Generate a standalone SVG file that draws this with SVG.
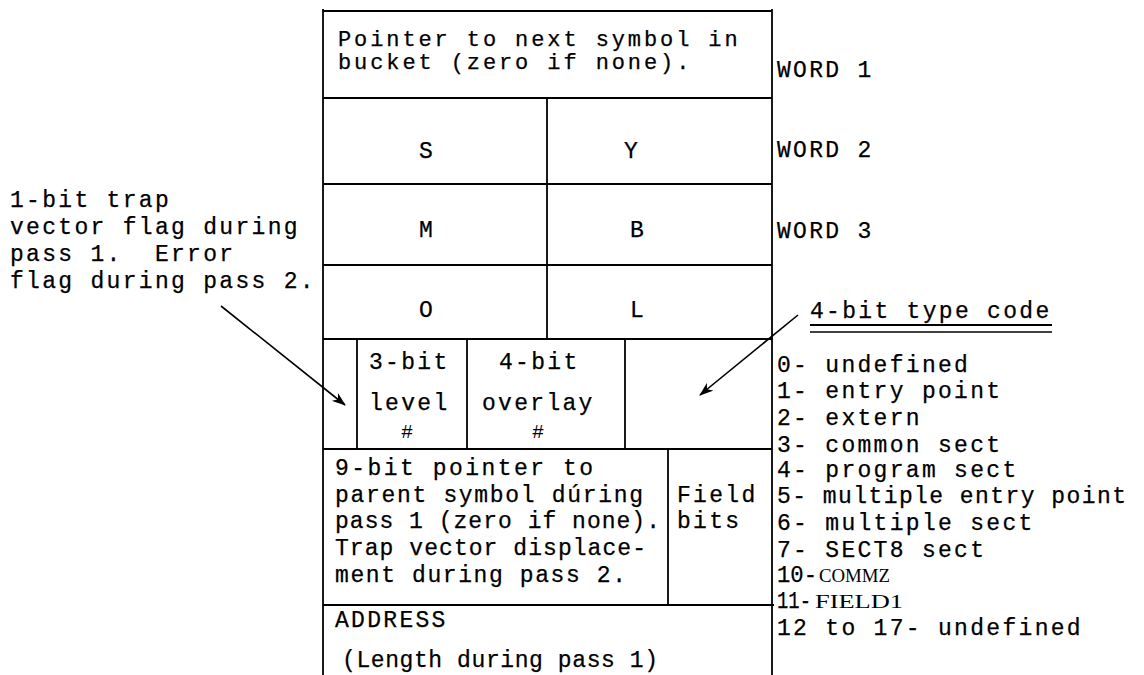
<svg xmlns="http://www.w3.org/2000/svg" width="1144" height="675" viewBox="0 0 1144 675">
<style>
.t{font-family:"Liberation Mono","Courier New",monospace;font-size:23px;letter-spacing:2.3px;fill:#000;stroke:#000;stroke-width:0.25;white-space:pre}
.tp{font-size:22px;letter-spacing:2.9px}
.n{font-family:"Liberation Mono","Courier New",monospace;font-size:23px;fill:#000;stroke:#000;stroke-width:0.25}
.h{font-family:"Liberation Mono","Courier New",monospace;font-size:20px;fill:#000;text-anchor:middle}
.r{font-family:"Liberation Serif","Times New Roman",serif;font-size:18px;fill:#000;stroke:none}
.ln{stroke:#000;stroke-width:1.8;fill:none}
.ar{stroke:#000;stroke-width:1.6;fill:none}
</style>
<defs>
<marker id="ah" viewBox="0 0 14 10" refX="13" refY="5" markerWidth="14" markerHeight="10" markerUnits="userSpaceOnUse" orient="auto">
<path d="M0,0 L14,5 L0,10 L4,5 Z" fill="#000"/>
</marker>
</defs>
<rect width="1144" height="675" fill="#fff"/>
<g id="grid" class="ln">
<path d="M323 11 H772"/>
<path d="M323 9 V675"/>
<path d="M772 9 V675"/>
<path d="M323 98 H772"/>
<path d="M323 184 H772"/>
<path d="M323 265 H772"/>
<path d="M323 339 H772"/>
<path d="M323 449 H772"/>
<path d="M323 605 H774"/>
<path d="M547 98 V339"/>
<path d="M357 339 V449"/>
<path d="M467 339 V449"/>
<path d="M625 339 V449"/>
<path d="M668 449 V605"/>
</g>
<g id="word1">
<text class="t tp" x="338" y="46">Pointer to next symbol in</text>
<text class="t tp" x="338" y="69">bucket (zero if none).</text>
</g>
<g id="cell-s"><text class="t" x="419" y="158">S</text></g>
<g id="cell-y"><text class="t" x="624" y="158">Y</text></g>
<g id="cell-m"><text class="t" x="419" y="237">M</text></g>
<g id="cell-b"><text class="t" x="630" y="237">B</text></g>
<g id="cell-o"><text class="t" x="419" y="317">O</text></g>
<g id="cell-l"><text class="t" x="630" y="317">L</text></g>
<g id="cell-flag"></g>
<g id="cell-level">
<text class="t" x="369" y="369">3-bit</text>
<text class="t" x="369" y="410">level</text>
<text class="h" x="407" y="438">#</text>
</g>
<g id="cell-overlay">
<text class="t" x="499" y="369">4-bit</text>
<text class="t" x="482" y="410">overlay</text>
<text class="h" x="538" y="438">#</text>
</g>
<g id="cell-type"></g>
<g id="cell-pointer">
<text class="n" x="335" y="475" textLength="258" lengthAdjust="spacing">9-bit pointer to</text>
<text class="n" x="335" y="502" textLength="308" lengthAdjust="spacing">parent symbol dúring</text>
<text class="n" x="335" y="528" textLength="325" lengthAdjust="spacing">pass 1 (zero if none).</text>
<text class="n" x="335" y="555" textLength="311" lengthAdjust="spacing">Trap vector displace-</text>
<text class="n" x="335" y="582" textLength="291" lengthAdjust="spacing">ment during pass 2.</text>
</g>
<g id="cell-field">
<text class="t" x="677" y="502">Field</text>
<text class="t" x="677" y="528">bits</text>
</g>
<g id="cell-address">
<text class="t" x="335" y="627">ADDRESS</text>
<text class="n" x="342" y="667" textLength="316" lengthAdjust="spacing">(Length during pass 1)</text>
</g>
<g id="word-labels">
<text class="t" x="777" y="77">WORD 1</text>
<text class="t" x="777" y="157">WORD 2</text>
<text class="t" x="777" y="238">WORD 3</text>
</g>
<g id="flag-note">
<text class="t" x="10" y="207">1-bit trap</text>
<text class="t" x="10" y="234">vector flag during</text>
<text class="t" x="10" y="261" xml:space="preserve">pass 1.  Error</text>
<text class="t" x="10" y="288">flag during pass 2.</text>
</g>
<g id="type-code">
<text class="t" x="810" y="318">4-bit type code</text>
<path d="M810 325 H1052" stroke="#000" stroke-width="2"/>
<path d="M810 332 H1052" stroke="#000" stroke-width="1.5"/>
<text class="t" x="777" y="372">0- undefined</text>
<text class="t" x="777" y="398">1- entry point</text>
<text class="t" x="777" y="425">2- extern</text>
<text class="t" x="777" y="452">3- common sect</text>
<text class="t" x="777" y="477">4- program sect</text>
<text class="n" x="777" y="503" textLength="349" lengthAdjust="spacing">5- multiple entry point</text>
<text class="t" x="777" y="530">6- multiple sect</text>
<text class="t" x="777" y="557">7- SECT8 sect</text>
<text class="n" x="777" y="582" textLength="40" lengthAdjust="spacingAndGlyphs">10-</text>
<text class="r" x="819" y="582" textLength="71" lengthAdjust="spacingAndGlyphs">COMMZ</text>
<text class="n" x="777" y="608" textLength="34" lengthAdjust="spacingAndGlyphs">11-</text>
<text class="r" x="815" y="608" textLength="88" lengthAdjust="spacingAndGlyphs">FIELD1</text>
<text class="t" x="777" y="635">12 to 17- undefined</text>
</g>
<g id="connectors">
<path class="ar" d="M221 306 L345 405" marker-end="url(#ah)"/>
<path class="ar" d="M798 315 L700 395" marker-end="url(#ah)"/>
</g>
</svg>
